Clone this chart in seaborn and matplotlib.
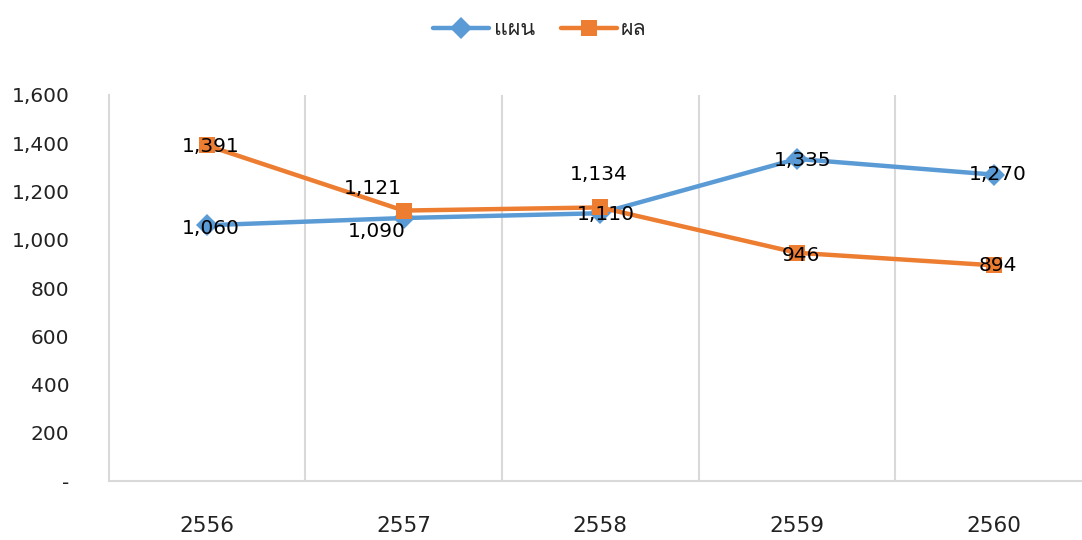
import pandas as pd
import matplotlib.pyplot as plt
import seaborn as sns
from matplotlib import font_manager
from matplotlib.ft2font import FT2Font

# Data
years = ['2556', '2557', '2558', '2559', '2560']
plan = [1060, 1090, 1110, 1335, 1270]
result = [1391, 1121, 1134, 946, 894]
series_names = ['แผน', 'ผล']

# label offsets in points (most labels sit on the marker)
plan_offsets = [(3, -2), (-19, -10), (4, -1), (4, -1), (3, 0)]
result_offsets = [(3, -1), (-22, 16), (-1, 24), (3, -2), (3, 0)]

df = pd.DataFrame({
    'year': years * 2,
    'value': plan + result,
    'series': [series_names[0]] * 5 + [series_names[1]] * 5,
})

sns.set_style('white')

# find a font that can draw Thai
thai_font = None
for f in font_manager.fontManager.ttflist:
    try:
        if FT2Font(f.fname).get_char_index(ord('แ')):
            thai_font = f.name
            break
    except Exception:
        pass
families = ['DejaVu Sans'] + ([thai_font] if thai_font else [])
plt.rcParams['font.family'] = families

blue = '#5B9BD5'
orange = '#ED7D31'

fig = plt.figure(figsize=(10.82, 5.4), dpi=100)
ax = fig.add_axes([108.5 / 1082, 59 / 540, 983.5 / 1082, 386 / 540])

sns.lineplot(data=df, x='year', y='value', hue='series', style='series',
             palette=[blue, orange], markers=['D', 's'], dashes=False,
             markersize=11, markeredgewidth=0, linewidth=3.2, sort=False, ax=ax)

for vals, offs in [(plan, plan_offsets), (result, result_offsets)]:
    for i, (v, o) in enumerate(zip(vals, offs)):
        ax.annotate(f'{v:,}', (i, v), xytext=o, textcoords='offset points',
                    ha='center', va='center', fontsize=14.5, color='black')

ax.set_xlim(-0.5, 4.5)
ax.set_ylim(0, 1600)
ax.set_yticks(range(0, 1601, 200))
ax.set_yticklabels(['-'] + [f'{v:,}' for v in range(200, 1601, 200)])
ax.set_xticks(range(5))
ax.set_xticks([0.5, 1.5, 2.5, 3.5], minor=True)
ax.grid(False)
ax.grid(True, which='minor', axis='x', color='#D9D9D9', linewidth=1.5)
ax.tick_params(axis='y', length=0, pad=28, labelsize=14.5, labelcolor='#222222')
ax.tick_params(axis='x', which='both', length=0, pad=25, labelsize=15.5, labelcolor='#222222')
ax.set_xlabel('')
ax.set_ylabel('')

for side in ['top', 'right']:
    ax.spines[side].set_visible(False)
for side in ['left', 'bottom']:
    ax.spines[side].set_color('#D9D9D9')
    ax.spines[side].set_linewidth(1.5)

ax.legend(loc='upper center', bbox_to_anchor=(540 / 1082, 1.0), bbox_transform=fig.transFigure,
          ncol=2, frameon=False, fontsize=15.5, handlelength=2.6, columnspacing=1.2,
          handletextpad=0.2)

fig.savefig('out.png', dpi=100)
